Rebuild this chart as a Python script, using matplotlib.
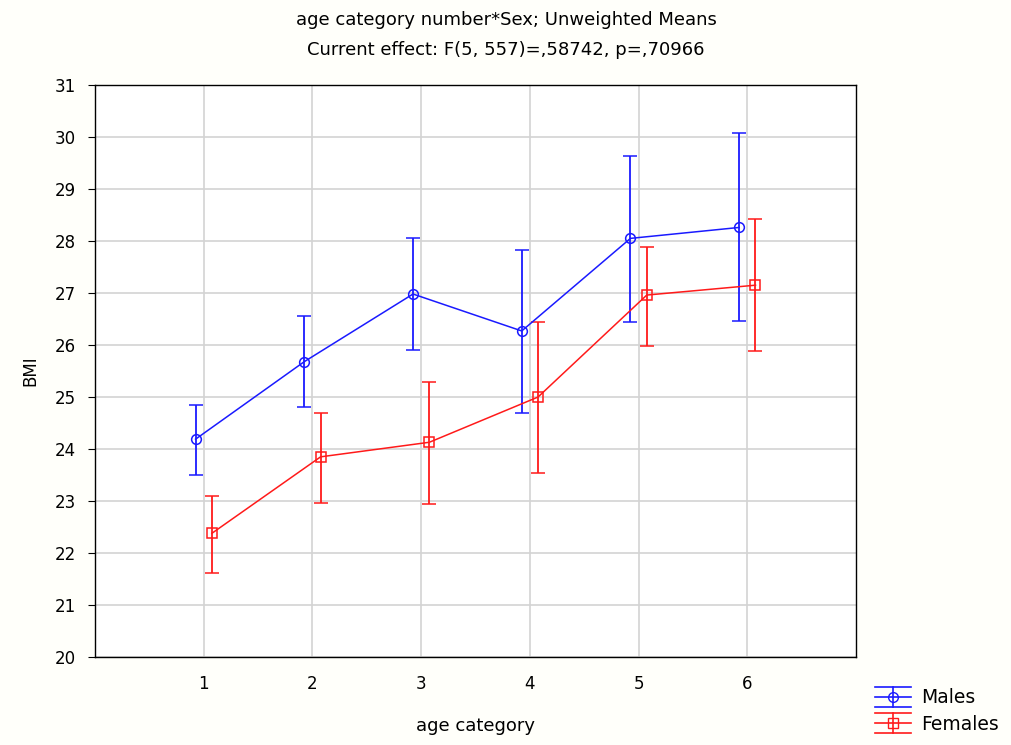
import numpy as np
import matplotlib.pyplot as plt
from matplotlib.lines import Line2D
from matplotlib.legend_handler import HandlerBase

plt.rcParams['font.family'] = ['DejaVu Sans']

categories = [1, 2, 3, 4, 5, 6]

males_mean = [24.19, 25.68, 26.98, 26.27, 28.05, 28.26]
males_low  = [23.51, 24.81, 25.90, 24.69, 26.44, 26.46]
males_high = [24.85, 26.56, 28.05, 27.83, 29.63, 30.07]

females_mean = [22.38, 23.85, 24.13, 25.00, 26.96, 27.15]
females_low  = [21.61, 22.97, 22.94, 23.54, 25.99, 25.88]
females_high = [23.10, 24.69, 25.28, 26.44, 27.89, 28.42]

OFFSET = 0.075
BLUE = '#1a1aff'
RED = '#ff1a1a'


class ErrProxy:
    def __init__(self, color, marker):
        self.color = color
        self.marker = marker


class ErrHandler(HandlerBase):
    # legend key like the original: cap / line / cap with a vertical bar
    def create_artists(self, legend, orig, xdescent, ydescent, width, height,
                       fontsize, trans):
        yc = height / 2 - ydescent
        x0, x1 = -xdescent, width - xdescent
        xm = (x0 + x1) / 2
        d = 0.75 * height
        arts = []
        for yy in (yc - d, yc, yc + d):
            arts.append(Line2D([x0, x1], [yy, yy], color=orig.color, lw=1.2))
        arts.append(Line2D([xm, xm], [yc - d, yc + d], color=orig.color, lw=1.2))
        arts.append(Line2D([xm], [yc], color=orig.color, marker=orig.marker,
                           markersize=7, markerfacecolor='none', lw=0))
        for a in arts:
            a.set_transform(trans)
        return arts


fig = plt.figure(figsize=(10.12, 7.45), dpi=100, facecolor='#fffffa')
ax = fig.add_axes([0.0939, 0.118, 0.752, 0.768])
ax.set_facecolor('white')

x = np.array(categories, dtype=float)


def draw(xpos, mean, low, high, color, marker):
    mean = np.array(mean)
    yerr = [mean - np.array(low), np.array(high) - mean]
    ax.errorbar(xpos, mean, yerr=yerr, color=color, marker=marker,
                markersize=7, markerfacecolor='none', markeredgecolor=color,
                markeredgewidth=1.1, lw=1.1, elinewidth=1.3, capsize=5,
                capthick=1.3, zorder=3)


draw(x - OFFSET, males_mean, males_low, males_high, BLUE, 'o')
draw(x + OFFSET, females_mean, females_low, females_high, RED, 's')

ax.set_xlim(0, 7)
ax.set_ylim(20, 31)
ax.set_xticks(categories)
ax.set_yticks(range(20, 32))
ax.grid(True, color='#d3d3d3', lw=1.2)
ax.set_axisbelow(True)
for s in ax.spines.values():
    s.set_color('black')
    s.set_linewidth(1.0)
ax.tick_params(axis='both', labelsize=12, length=5, color='black', pad=9)
ax.tick_params(axis='x', length=0, pad=13)

ax.set_xlabel('age category', fontsize=13, labelpad=17)
ax.set_ylabel('BMI', fontsize=12, labelpad=11)

fig.text(0.5, 1 - 20 / 745, 'age category number*Sex; Unweighted Means',
         ha='center', va='center', fontsize=13)
fig.text(0.5, 1 - 50 / 745, 'Current effect: F(5, 557)=,58742, p=,70966',
         ha='center', va='center', fontsize=13)

handles = [ErrProxy(BLUE, 'o'), ErrProxy(RED, 's')]
fig.legend(handles, ['Males', 'Females'],
           handler_map={ErrProxy: ErrHandler()},
           loc='center left', bbox_to_anchor=(875 / 1012, 1 - 711 / 745),
           frameon=False, fontsize=13.5, handlelength=1.9, handletextpad=0.55,
           labelspacing=0.4, borderpad=0, borderaxespad=0)

fig.savefig('out.png', dpi=100, facecolor=fig.get_facecolor())
